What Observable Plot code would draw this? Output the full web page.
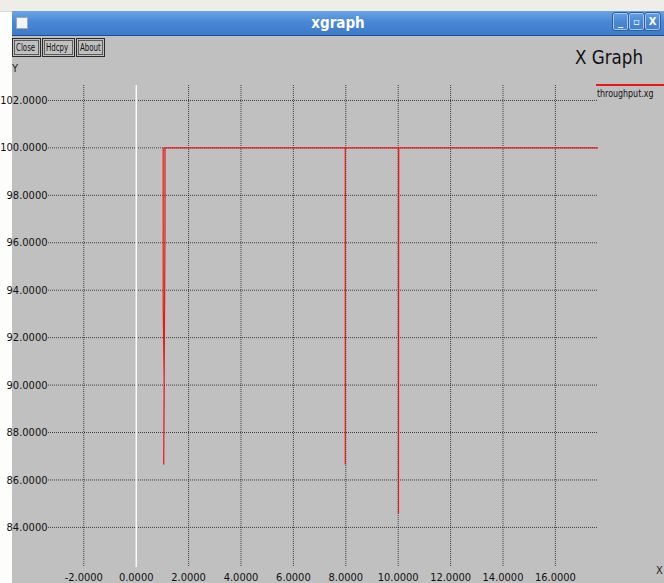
<!DOCTYPE html>
<html>
<head>
<meta charset="utf-8">
<script src="https://cdn.jsdelivr.net/npm/d3@7"></script>
<script src="https://cdn.jsdelivr.net/npm/@observablehq/plot@0.6"></script>
<style>
  html, body { margin: 0; padding: 0; }
  body { width: 664px; height: 583px; position: relative; overflow: hidden; background: #fdfdfb;
         font-family: "Liberation Sans Narrow", "Arial Narrow", "DejaVu Sans Condensed", "Liberation Sans", sans-serif; }
  .abs { position: absolute; }
  .sq { display: inline-block; transform-origin: left center; white-space: nowrap; }
  #topstrip { left: 0; top: 0; width: 664px; height: 11px; background: #eeede7; border-bottom: 1px solid #d8d6cf; }
  #titlebar { left: 12px; top: 11px; width: 652px; height: 24px;
              background: linear-gradient(#6aa5e6, #4a88d6 45%, #3d7acb); border-bottom: 1px solid #1f4f8f; }
  #titlebar .t { position: absolute; left: 0; right: 0; top: 3px; text-align: center; color: #fff;
                 font-weight: bold; font-size: 15px; }
  #sq { left: 4px; top: 6px; width: 10px; height: 10px; background: #f4f4f4; border: 1px solid #9ab; }
  .wb { top: 2px; width: 13px; height: 15px; border: 1px solid #a9c8ef; outline: 1px solid #2d5f9e;
        border-radius: 2px; color: #fff; font: bold 10px "DejaVu Sans", sans-serif; text-align: center; line-height: 15px; }
  #win { left: 12px; top: 36px; width: 652px; height: 547px; background: #c0c0c0; }
  .btn { top: 38px; height: 17px; border: 1px solid #2a2a2a; outline: 1px solid #5a5a5a; outline-offset: -3px;
         font-size: 10px; line-height: 17px; color: #111; background: #c0c0c0; overflow: hidden; }
  .btn .sq { transform: scaleX(0.78); margin-left: 3px; }
  #chart { left: 0; top: 36px; }
  #xgraph { left: 575px; top: 45px; font-size: 20px; color: #111; }
  #xgraph .sq { transform: scaleX(0.93); }
  #ylab { left: 12px; top: 62px; font-size: 11px; color: #222; }
  #xlab { left: 656px; top: 564px; font-size: 11px; color: #222; }
  #legline { left: 596px; top: 84px; width: 68px; height: 2px; background: #e81818; }
  #legtxt { left: 597px; top: 87px; font-size: 11px; color: #111; }
  #legtxt .sq { transform: scaleX(0.8); }
</style>
</head>
<body>
<div id="topstrip" class="abs"></div>
<div id="titlebar" class="abs">
  <div id="sq" class="abs"></div>
  <div class="t">xgraph</div>
  <div class="abs wb" style="left:601px">_</div>
  <div class="abs wb" style="left:617px">&#x25AB;</div>
  <div class="abs wb" style="left:633px">X</div>
</div>
<div id="win" class="abs"></div>
<div class="abs btn" style="left:12px;width:27px"><span class="sq">Close</span></div>
<div class="abs btn" style="left:42px;width:31px"><span class="sq">Hdcpy</span></div>
<div class="abs btn" style="left:76px;width:27px"><span class="sq">About</span></div>
<div id="xgraph" class="abs"><span class="sq">X Graph</span></div>
<div id="ylab" class="abs">Y</div>
<div id="xlab" class="abs">X</div>
<div id="legline" class="abs"></div>
<div id="legtxt" class="abs"><span class="sq">throughput.xg</span></div>
<div id="chart" class="abs"></div>
<script>
// data series (time in s, throughput in %)
const time       = [1.03, 1.03, 1.07, 1.05, 1.10, 1.10, 7.98, 7.98, 7.98, 10.01, 10.01, 10.02, 17.61];
const throughput = [100, 93.33, 90.0, 86.67, 96.67, 100, 100, 86.67, 100, 100, 84.6, 100, 100];
// tick labels
const xTicks = [-2, 0, 2, 4, 6, 8, 10, 12, 14, 16];
const yTicks = [84, 86, 88, 90, 92, 94, 96, 98, 100, 102];

const data = time.map((t, i) => ({t, v: throughput[i]}));
const fmt = d => d.toFixed(4);

const chart = Plot.plot({
  width: 664,
  height: 547,
  marginLeft: 48,
  marginRight: 67,
  marginTop: 49,
  marginBottom: 16,
  x: {domain: [-3.347, 17.607]},
  y: {domain: [82.31, 102.63]},
  style: {background: "transparent", fontFamily: '"Liberation Sans Narrow", "Arial Narrow", "DejaVu Sans Condensed", sans-serif', fontSize: "11px", color: "#111"},
  marks: [
    Plot.gridX(xTicks, {stroke: "#111", strokeOpacity: 0.75, strokeDasharray: "1,1"}),
    Plot.gridY(yTicks, {stroke: "#111", strokeOpacity: 0.75, strokeDasharray: "1,1"}),
    Plot.ruleX([0], {stroke: "white", strokeWidth: 1.5}),
    Plot.axisX(xTicks, {tickSize: 0, tickPadding: 6, tickFormat: fmt, label: null}),
    Plot.axisY(yTicks, {tickSize: 0, tickPadding: 1, tickFormat: fmt, label: null}),
    Plot.line(data, {x: "t", y: "v", stroke: "#e81818", strokeWidth: 1.2})
  ]
});
document.getElementById("chart").appendChild(chart);
</script>
</body>
</html>
